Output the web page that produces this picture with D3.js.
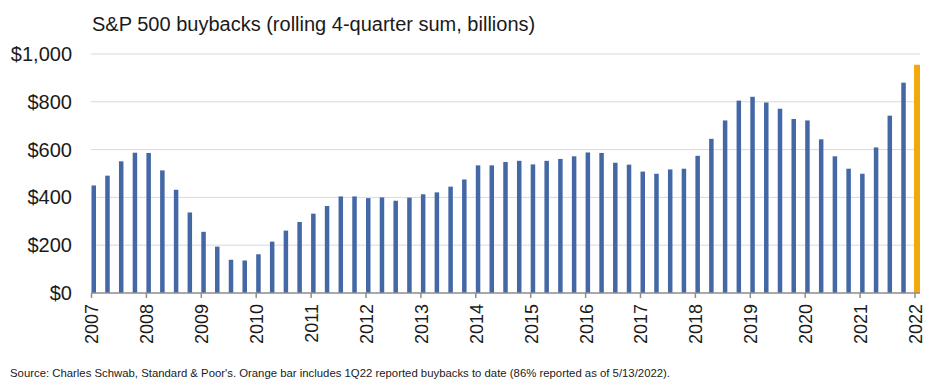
<!DOCTYPE html>
<html lang="en">
<head>
<meta charset="UTF-8">
<title>S&amp;P 500 buybacks</title>
<script src="https://d3js.org/d3.v7.min.js"></script>
<style>
  body { margin: 0; background: #fff; }
  svg { display: block; }
  text { font-family: "Liberation Sans", Arial, sans-serif; fill: #1a1a1a; }
</style>
</head>
<body>
<svg id="chart"></svg>
<script>
// quarterly rolling 4-quarter sums, 1Q07 .. 1Q22 (billions $)
const buybacks = [
  450, 491, 551, 587, 586, 513, 432, 337,   // 2007-2008
  256, 194, 139, 136, 162, 215, 261, 297,   // 2009-2010
  332, 364, 404, 404, 397, 400, 386, 399,   // 2011-2012
  413, 421, 445, 475, 534, 534, 548, 553,   // 2013-2014
  538, 553, 561, 572, 588, 586, 545, 537,   // 2015-2016
  508, 499, 517, 520, 574, 645, 722, 805,   // 2017-2018
  821, 797, 771, 728, 722, 643, 572, 520,   // 2019-2020
  499, 609, 742, 880,                        // 2021
  955                                        // 1Q22 (partial, orange)
];
const years = ["2007","2008","2009","2010","2011","2012","2013","2014",
               "2015","2016","2017","2018","2019","2020","2021","2022"];
const yTicks = [0, 200, 400, 600, 800, 1000];

const title = "S&P 500 buybacks (rolling 4-quarter sum, billions)";
const source = "Source: Charles Schwab, Standard & Poor's. Orange bar includes 1Q22 reported buybacks to date (86% reported as of 5/13/2022).";

const width = 936, height = 384;
const m = { left: 91, right: 920, top: 54, bottom: 293 };

const svg = d3.select("#chart").attr("width", width).attr("height", height);

const x = d3.scaleLinear().domain([0, buybacks.length - 1]).range([m.left + 0.5, 915]);
const y = d3.scaleLinear().domain([0, 1000]).range([m.bottom, m.top]);

// gridlines
svg.append("g")
  .selectAll("line")
  .data(yTicks.slice(1))
  .join("line")
  .attr("x1", m.left).attr("x2", m.right)
  .attr("y1", d => y(d)).attr("y2", d => y(d))
  .attr("stroke", "#d9d9d9").attr("stroke-width", 1);

// y axis labels
const yAxis = svg.append("g")
  .attr("transform", `translate(${m.left},0)`)
  .call(d3.axisLeft(y).tickValues(yTicks).tickSize(0).tickPadding(19)
    .tickFormat(d => "$" + d3.format(",")(d)));
yAxis.select(".domain").remove();
yAxis.selectAll("text").style("font-size", "20px").attr("fill", "#1a1a1a");

// bars
const last = buybacks.length - 1;
svg.append("g")
  .selectAll("rect")
  .data(buybacks)
  .join("rect")
  .attr("x", (d, i) => i === last ? x(i) - 1 : x(i))
  .attr("width", (d, i) => i === last ? 6 : 4.5)
  .attr("y", d => y(d))
  .attr("height", d => y(0) - y(d))
  .attr("fill", (d, i) => i === last ? "#f2a90f" : "#4467a6");

// x axis baseline + ticks
svg.append("line")
  .attr("x1", m.left).attr("x2", m.right)
  .attr("y1", m.bottom).attr("y2", m.bottom)
  .attr("stroke", "#8c8c8c").attr("stroke-width", 1.5);

const xAxis = svg.append("g")
  .attr("transform", `translate(0,${m.bottom})`)
  .call(d3.axisBottom(x)
    .tickValues(years.map((d, i) => i * 4))
    .tickSize(5).tickPadding(0)
    .tickFormat((d, i) => years[i]));
xAxis.select(".domain").remove();
xAxis.selectAll(".tick line").attr("stroke", "#8c8c8c").attr("stroke-width", 1.5)
  .attr("transform", "translate(-0.5,0)");
xAxis.selectAll(".tick text")
  .attr("transform", "rotate(-90)")
  .attr("x", -11).attr("y", 0).attr("dy", "0.36em")
  .attr("text-anchor", "end")
  .style("font-size", "18px").attr("fill", "#1a1a1a");

// title
svg.append("text")
  .attr("x", 92).attr("y", 31)
  .style("font-size", "20px")
  .text(title);

// source note
svg.append("text")
  .attr("x", 10).attr("y", 377)
  .style("font-size", "11.5px")
  .attr("textLength", 660).attr("lengthAdjust", "spacingAndGlyphs")
  .text(source);
</script>
</body>
</html>
